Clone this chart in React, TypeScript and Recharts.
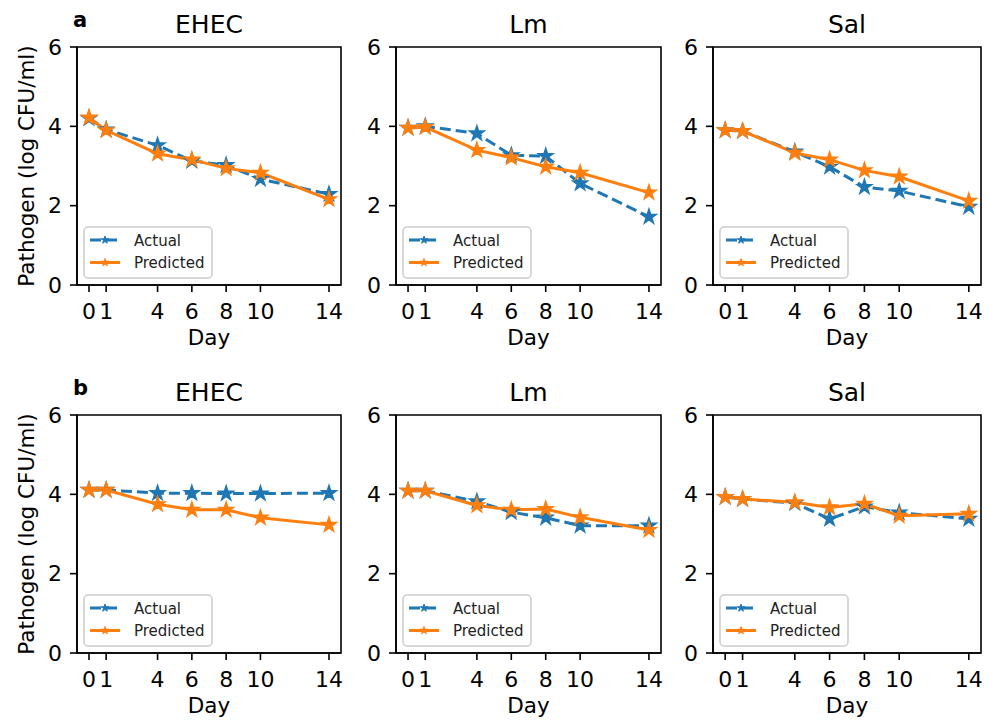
import { LineChart, Line, XAxis, YAxis, ReferenceArea } from "recharts";

const DAYS = [0, 1, 4, 6, 8, 10, 14];
const PATHOGENS = ["EHEC", "Lm", "Sal"];
const PANEL_LETTERS = ["a", "b"];
const SERIES = ["Actual", "Predicted"];
const Y_TICKS = [0, 2, 4, 6];

// row a
const EHEC_A_ACTUAL = [4.2, 3.92, 3.52, 3.13, 3.02, 2.67, 2.29];
const EHEC_A_PRED = [4.22, 3.9, 3.31, 3.16, 2.94, 2.83, 2.16];
const LM_A_ACTUAL = [3.96, 4.0, 3.82, 3.27, 3.25, 2.56, 1.72];
const LM_A_PRED = [3.96, 3.98, 3.4, 3.21, 2.98, 2.83, 2.33];
const SAL_A_ACTUAL = [3.9, 3.88, 3.36, 2.98, 2.47, 2.37, 1.97];
const SAL_A_PRED = [3.9, 3.88, 3.33, 3.16, 2.89, 2.73, 2.12];

// row b
const EHEC_B_ACTUAL = [4.11, 4.11, 4.03, 4.03, 4.02, 4.02, 4.03];
const EHEC_B_PRED = [4.11, 4.11, 3.75, 3.61, 3.61, 3.41, 3.23];
const LM_B_ACTUAL = [4.09, 4.09, 3.82, 3.55, 3.41, 3.21, 3.21];
const LM_B_PRED = [4.09, 4.09, 3.72, 3.61, 3.63, 3.42, 3.1];
const SAL_B_ACTUAL = [3.93, 3.88, 3.78, 3.38, 3.69, 3.54, 3.38];
const SAL_B_PRED = [3.93, 3.88, 3.8, 3.67, 3.76, 3.46, 3.51];

const ACTUAL = [
  [EHEC_A_ACTUAL, LM_A_ACTUAL, SAL_A_ACTUAL],
  [EHEC_B_ACTUAL, LM_B_ACTUAL, SAL_B_ACTUAL],
];
const PREDICTED = [
  [EHEC_A_PRED, LM_A_PRED, SAL_A_PRED],
  [EHEC_B_PRED, LM_B_PRED, SAL_B_PRED],
];

const BLUE = "#1f77b4";
const ORANGE = "#ff7f0e";
const FONT = "DejaVu Sans, sans-serif";

const AX_LEFT = [77, 396, 713];
const AX_RIGHT = [341, 661, 981];
const AX_TOP = [47, 415];
const AX_BOTTOM = [285, 653];
const YW = 60;
const XH = 40;
const MT = 20;
const MR = 8;

function starPoints(cx: number, cy: number, r: number) {
  const pts: string[] = [];
  for (let i = 0; i < 10; i++) {
    const a = -Math.PI / 2 + (i * Math.PI) / 5;
    const rr = i % 2 === 0 ? r : r * 0.382;
    pts.push(`${cx + rr * Math.cos(a)},${cy + rr * Math.sin(a)}`);
  }
  return pts.join(" ");
}

const starDot = (color: string) => (props: any) => {
  const { cx, cy, index } = props;
  if (cx == null || cy == null) return <g key={`s-${index}`} />;
  return (
    <polygon
      key={`s-${index}`}
      points={starPoints(cx, cy, 7.5)}
      fill={color}
      stroke={color}
      strokeWidth={1.6}
    />
  );
};

function Panel({ row, col }: { row: number; col: number }) {
  const data = DAYS.map((d, i) => ({
    day: d,
    actual: ACTUAL[row][col][i],
    predicted: PREDICTED[row][col][i],
  }));
  const axL = AX_LEFT[col];
  const axR = AX_RIGHT[col];
  const axT = AX_TOP[row];
  const axB = AX_BOTTOM[row];
  const width = axR - axL + YW + MR;
  const height = axB - axT + MT + XH;
  const tickStyle = { fill: "#000", fontSize: 22, fontFamily: FONT };

  return (
    <div style={{ position: "absolute", left: axL - YW, top: axT - MT }}>
      <LineChart
        width={width}
        height={height}
        data={data}
        margin={{ top: MT, right: MR, left: 0, bottom: 0 }}
        style={{ fontFamily: FONT }}
      >
        <XAxis
          dataKey="day"
          type="number"
          domain={[-0.7, 14.7]}
          ticks={DAYS}
          interval={0}
          height={XH}
          tick={tickStyle}
          tickSize={7}
          tickMargin={11}
          axisLine={{ stroke: "#000", strokeWidth: 1.6 }}
          tickLine={{ stroke: "#000", strokeWidth: 1.6 }}
          allowDataOverflow
        />
        <YAxis
          type="number"
          domain={[0, 6]}
          ticks={Y_TICKS}
          interval={0}
          width={YW}
          tick={tickStyle}
          tickSize={7}
          tickMargin={8}
          axisLine={{ stroke: "#000", strokeWidth: 1.6 }}
          tickLine={{ stroke: "#000", strokeWidth: 1.6 }}
          allowDataOverflow
        />
        <ReferenceArea
          x1={-0.7}
          x2={14.7}
          y1={0}
          y2={6}
          fill="none"
          fillOpacity={0}
          stroke="#000"
          strokeWidth={1.6}
        />
        <Line
          type="linear"
          dataKey="actual"
          name={SERIES[0]}
          stroke={BLUE}
          strokeWidth={3}
          strokeDasharray="11 5"
          dot={starDot(BLUE)}
          activeDot={false}
          isAnimationActive={false}
        />
        <Line
          type="linear"
          dataKey="predicted"
          name={SERIES[1]}
          stroke={ORANGE}
          strokeWidth={3}
          dot={starDot(ORANGE)}
          activeDot={false}
          isAnimationActive={false}
        />
      </LineChart>
    </div>
  );
}

function Overlay() {
  const items: any[] = [];
  AX_TOP.forEach((axT, row) => {
    const axB = AX_BOTTOM[row];
    items.push(
      <text key={`letter-${row}`} x={73} y={axT - 20} fontSize={21} fontWeight="bold" fontFamily={FONT}>
        {PANEL_LETTERS[row]}
      </text>
    );
    items.push(
      <text
        key={`ylab-${row}`}
        x={0}
        y={0}
        fontSize={21.5}
        fontFamily={FONT}
        textAnchor="middle"
        transform={`translate(34, ${(axT + axB) / 2}) rotate(-90)`}
      >
        Pathogen (log CFU/ml)
      </text>
    );
    AX_LEFT.forEach((axL, col) => {
      const axR = AX_RIGHT[col];
      const mid = (axL + axR) / 2;
      items.push(
        <text key={`t-${row}-${col}`} x={mid} y={axT - 14} fontSize={25} textAnchor="middle" fontFamily={FONT}>
          {PATHOGENS[col]}
        </text>
      );
      items.push(
        <text key={`x-${row}-${col}`} x={mid} y={axB + 60} fontSize={21.5} textAnchor="middle" fontFamily={FONT}>
          Day
        </text>
      );
      const lx = axL + 7;
      const ly = axB - 58;
      items.push(
        <g key={`lg-${row}-${col}`}>
          <rect x={lx} y={ly} width={128} height={51} rx={4} fill="#fff" fillOpacity={0.8} stroke="#cccccc" strokeWidth={1.5} />
          {SERIES.map((s, i) => {
            const color = i === 0 ? BLUE : ORANGE;
            const yy = ly + 13 + i * 22.5;
            return (
              <g key={s}>
                <line
                  x1={lx + 6}
                  x2={lx + 36}
                  y1={yy}
                  y2={yy}
                  stroke={color}
                  strokeWidth={3}
                  strokeDasharray={i === 0 ? "11 5" : undefined}
                />
                <polygon points={starPoints(lx + 21, yy, 4)} fill={color} stroke={color} strokeWidth={1} />
                <text x={lx + 50} y={yy + 5.5} fontSize={15} fontFamily={FONT} fill="#222">
                  {s}
                </text>
              </g>
            );
          })}
        </g>
      );
    });
  });
  return (
    <svg
      width={990}
      height={720}
      style={{ position: "absolute", left: 0, top: 0, pointerEvents: "none" }}
    >
      {items}
    </svg>
  );
}

export default function App() {
  return (
    <div
      style={{
        position: "absolute",
        left: 0,
        top: 0,
        width: 990,
        height: 720,
        background: "#fff",
        overflow: "hidden",
      }}
    >
      {AX_TOP.map((_, row) =>
        AX_LEFT.map((_, col) => <Panel key={`${row}-${col}`} row={row} col={col} />)
      )}
      <Overlay />
    </div>
  );
}
